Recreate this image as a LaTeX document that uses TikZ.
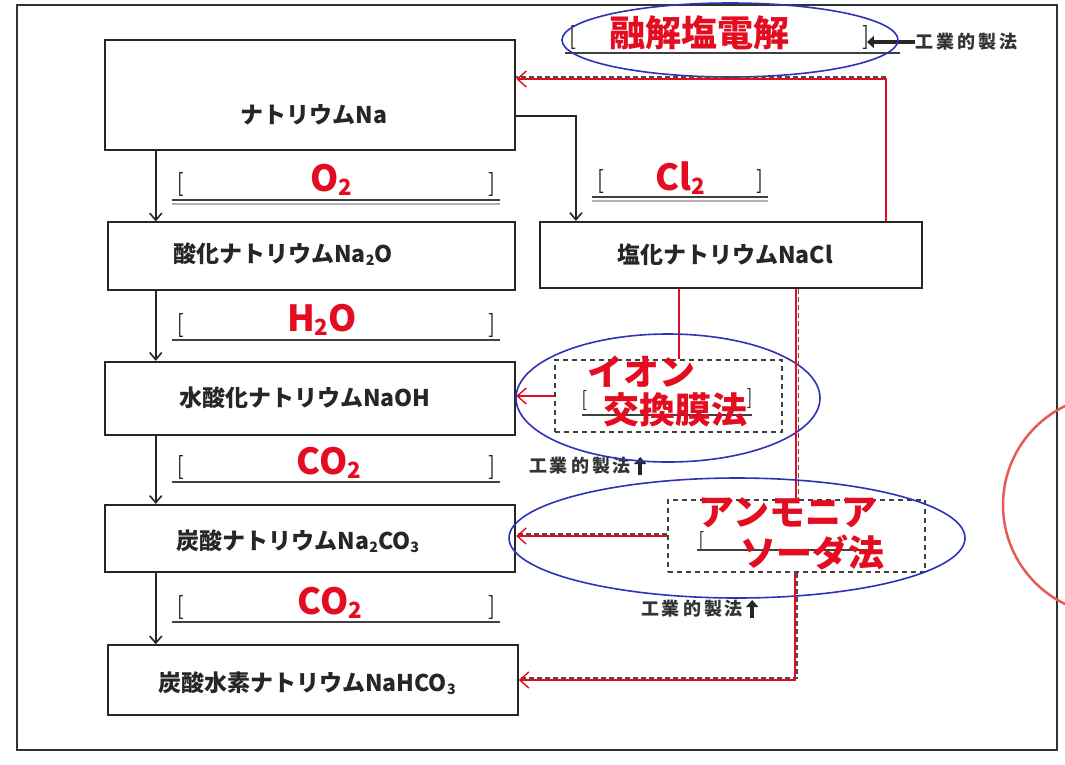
\documentclass[tikz,border=0pt]{standalone}
\usepackage{fontspec}
\usepackage{graphicx}
\usetikzlibrary{arrows.meta,calc,shapes.geometric}
\newfontfamily\jp{Noto Sans CJK JP}
\definecolor{myred}{RGB}{228,12,32}
\definecolor{myblue}{RGB}{45,50,185}
\definecolor{circred}{RGB}{232,90,90}
\newcommand\sbs[1]{\raisebox{-0.12em}{\scalebox{0.62}{#1}}}
\newcommand\kgtext{工\hspace{3pt}業\hspace{3pt}的\hspace{3pt}製\hspace{3pt}法}
\begin{document}
\begin{tikzpicture}[x=1pt,y=-1pt,
  box/.style={draw=black!85, inner sep=0pt},
  btxt/.style={font=\jp\bfseries\fontsize{23}{25}\selectfont, text=black!85, inner sep=0pt},
  rtxt/.style={font=\jp\bfseries\fontsize{36}{38}\selectfont, text=myred, inner sep=0pt},
  brk/.style={font=\bfseries\fontsize{24}{26}\selectfont, text=black!85, inner sep=0pt},
  kg/.style={font=\jp\bfseries\fontsize{18}{20}\selectfont, text=black!80, inner sep=0pt},
  uline/.style={line width=1.5pt, black!75},
  uline2/.style={line width=1.2pt, black!30},
  blkarr/.style={line width=1.6pt, black!85, -{Straight Barb[length=7pt,width=12pt]}},
  redarr/.style={line width=1.4pt, myred, -{Straight Barb[length=9pt,width=16pt]}},
  redline/.style={line width=1.4pt, myred},
  dashblk/.style={line width=1.1pt, black!70, dash pattern=on 5pt off 3pt},
  fatarr/.style={line width=3.5pt, black!85, -{Triangle[length=7pt,width=12pt]}},
  ell/.style={draw=myblue, line width=1.6pt},
  dbox/.style={draw=black!75, line width=1.1pt, dash pattern=on 5pt off 4pt, inner sep=0pt}
]
\useasboundingbox (0,0) rectangle (1065,764);
\fill[white] (0,0) rectangle (1065,764);
% outer frame
\draw[line width=1.3pt, black!80] (17,5) rectangle (1057,750);
% big red circle at right edge
\begin{scope}
  \clip (0,0) rectangle (1065,764);
  \draw[circred, line width=2.5pt] (1113,505) circle[radius=110];
\end{scope}

% boxes
\node[box, line width=2.5pt, minimum width=410pt, minimum height=110pt] (na) at (310,95) {};
\node[btxt] (natx) at (314,115) {ナトリウムNa};
\node[box, line width=1.2pt, minimum width=407pt, minimum height=68pt] (na2o) at (311.5,256) {};
\node[btxt] (na2otx) at (283,254) {酸化ナトリウムNa\sbs{2}O};
\node[box, line width=2.5pt, minimum width=410pt, minimum height=73pt] (naoh) at (310,398.5) {};
\node[btxt] (naohtx) at (305,398) {水酸化ナトリウムNaOH};
\node[box, line width=2.2pt, minimum width=410pt, minimum height=67pt] (na2co3) at (310,538.5) {};
\node[btxt] (na2co3tx) at (298,541) {炭酸ナトリウムNa\sbs{2}CO\sbs{3}};
\node[box, line width=1.5pt, minimum width=410pt, minimum height=70pt] (nahco3) at (313,680) {};
\node[btxt] (nahco3tx) at (307,683) {炭酸水素ナトリウムNaHCO\sbs{3}};
\node[box, line width=2.2pt, minimum width=382pt, minimum height=66pt] (nacl) at (731,255) {};
\node[btxt] (nacltx) at (725,255) {塩化ナトリウムNaCl};

% black arrows down the left column
\coordinate (ax) at ([xshift=52pt]na.south west);
\draw[blkarr] (ax) -- (ax |- na2o.north);
\draw[blkarr] (ax |- na2o.south) -- (ax |- naoh.north);
\draw[blkarr] (ax |- naoh.south) -- (ax |- na2co3.north);
\draw[blkarr] (ax |- na2co3.south) -- (ax |- nahco3.north);
% Na -> NaCl
\coordinate (nr) at ([yshift=-21pt]na.east);
\coordinate (cl) at ([xshift=37pt]nacl.north west);
\draw[blkarr] (nr) -| (cl);

% bracket rows
% O2
\node[brk] (lb1) at (180,184) {[};
\node[brk] (rb1) at (492,184) {]};
\draw[uline] (172,200) -- (500,200);
\draw[uline2] (172,204) -- (500,204);
\node[rtxt] (o2) at (331,180) {O\sbs{2}};
% H2O
\node[brk] (lb2) at (180,325) {[};
\node[brk] (rb2) at (492,325) {]};
\draw[uline] (172,340) -- (500,340);
\node[rtxt] (h2o) at (322,320) {H\sbs{2}O};
% CO2 (1)
\node[brk] (lb3) at (180,467) {[};
\node[brk] (rb3) at (492,467) {]};
\draw[uline] (172,482) -- (500,482);
\node[rtxt] (co2a) at (329,463) {CO\sbs{2}};
\node[kg] (kg3) at (580,466) {\kgtext};
\draw[fatarr] ([xshift=9pt,yshift=-9pt]kg3.east) -- ++(0,-18);
% CO2 (2)
\node[brk] (lb4) at (180,607) {[};
\node[brk] (rb4) at (492,607) {]};
\draw[uline] (172,622) -- (500,622);
\node[rtxt] (co2b) at (330,603) {CO\sbs{2}};
% Cl2
\node[brk] (lb5) at (600,181) {[};
\node[brk] (rb5) at (760,181) {]};
\draw[uline] (592,197) -- (768,197);
\draw[uline2] (592,201) -- (768,201);
\node[rtxt] (cl2) at (680,178) {Cl\sbs{2}};
% fused salt electrolysis
\node[brk] (lb6) at (572,37) {[};
\node[brk] (rb6) at (866,37) {]};
\draw[uline] (565,53) -- (900,53);
\node[rtxt] (ydk) at (699,33) {融解塩電解};
\node[kg] (kg6) at (966,42) {\kgtext};
\draw[fatarr] (kg6.west) -- ([xshift=-3pt]kg6.west -| rb6.east);
\node[ell, ellipse, minimum width=336pt, minimum height=74pt] (e1) at (730,40) {};

% red path NaCl -> Na (top)
\coordinate (t1) at ([xshift=-37pt]nacl.north east);
\coordinate (t2) at ($(t1 |- na.east)+(0,-18)$);
\coordinate (t3) at ($(na.east)+(0,-18)$);
\draw[dashblk] (t2) -- (t3);
\draw[redarr] (t1) |- ([yshift=16pt]na.east);

% ion exchange membrane
\node[dbox, minimum width=227pt, minimum height=72pt] (ionbox) at (668.5,396) {};
\node[brk, font=\bfseries\fontsize{20}{22}\selectfont] (lb7) at (584,400) {[};
\node[brk, font=\bfseries\fontsize{20}{22}\selectfont] (rb7) at (750,398) {]};
\draw[uline, line width=1.1pt] (582,415) -- (752,415);
\coordinate (c1) at ([xshift=140pt]nacl.south west);
\draw[redline] (c1) -- (c1 |- ionbox.north);
\node[rtxt] (ion1) at (641,372) {イオン};
\node[rtxt] (ion2) at (675,410) {交換膜法};
\draw[redarr] (ionbox.west) -- (ionbox.west -| naoh.east);
\node[ell, ellipse, minimum width=304pt, minimum height=128pt] (e2) at (668,398) {};

% ammonia soda process
\node[dbox, minimum width=257pt, minimum height=72pt] (amm) at (796.5,536) {};
\node[brk, font=\bfseries\fontsize{20}{22}\selectfont] (lb8) at (701,541) {[};
\draw[uline, line width=1.1pt] (697,550) -- (872,550);
\coordinate (c2) at ([xshift=-127pt]nacl.south east);
\draw[redline] (c2) -- (c2 |- amm.north);
\draw[dashblk] ($(c2)+(2,0)$) -- ($(c2 |- amm.north)+(2,0)$);
\node[rtxt] (amm1) at (788,513) {アンモニア};
\node[rtxt] (amm2) at (812,553) {ソーダ法};
\draw[dashblk] ($(amm.west)+(0,-2)$) -- ($(amm.west -| na2co3.east)+(0,-2)$);
\draw[redarr] (amm.west) -- (amm.west -| na2co3.east);
\node[ell, ellipse, minimum width=456pt, minimum height=120pt] (e3) at (737,538) {};
% down to NaHCO3
\coordinate (b1) at ($(amm.south)+(-1.5,0)$);
\draw[dashblk] ($(b1)+(2,0)$) |- ($(nahco3.east)+(0,-2)$);
\draw[redarr] (b1) |- (nahco3.east);
\node[kg] (kg8) at (692,609) {\kgtext};
\draw[fatarr] ([xshift=9pt,yshift=-9pt]kg8.east) -- ++(0,-18);
\end{tikzpicture}
\end{document}
